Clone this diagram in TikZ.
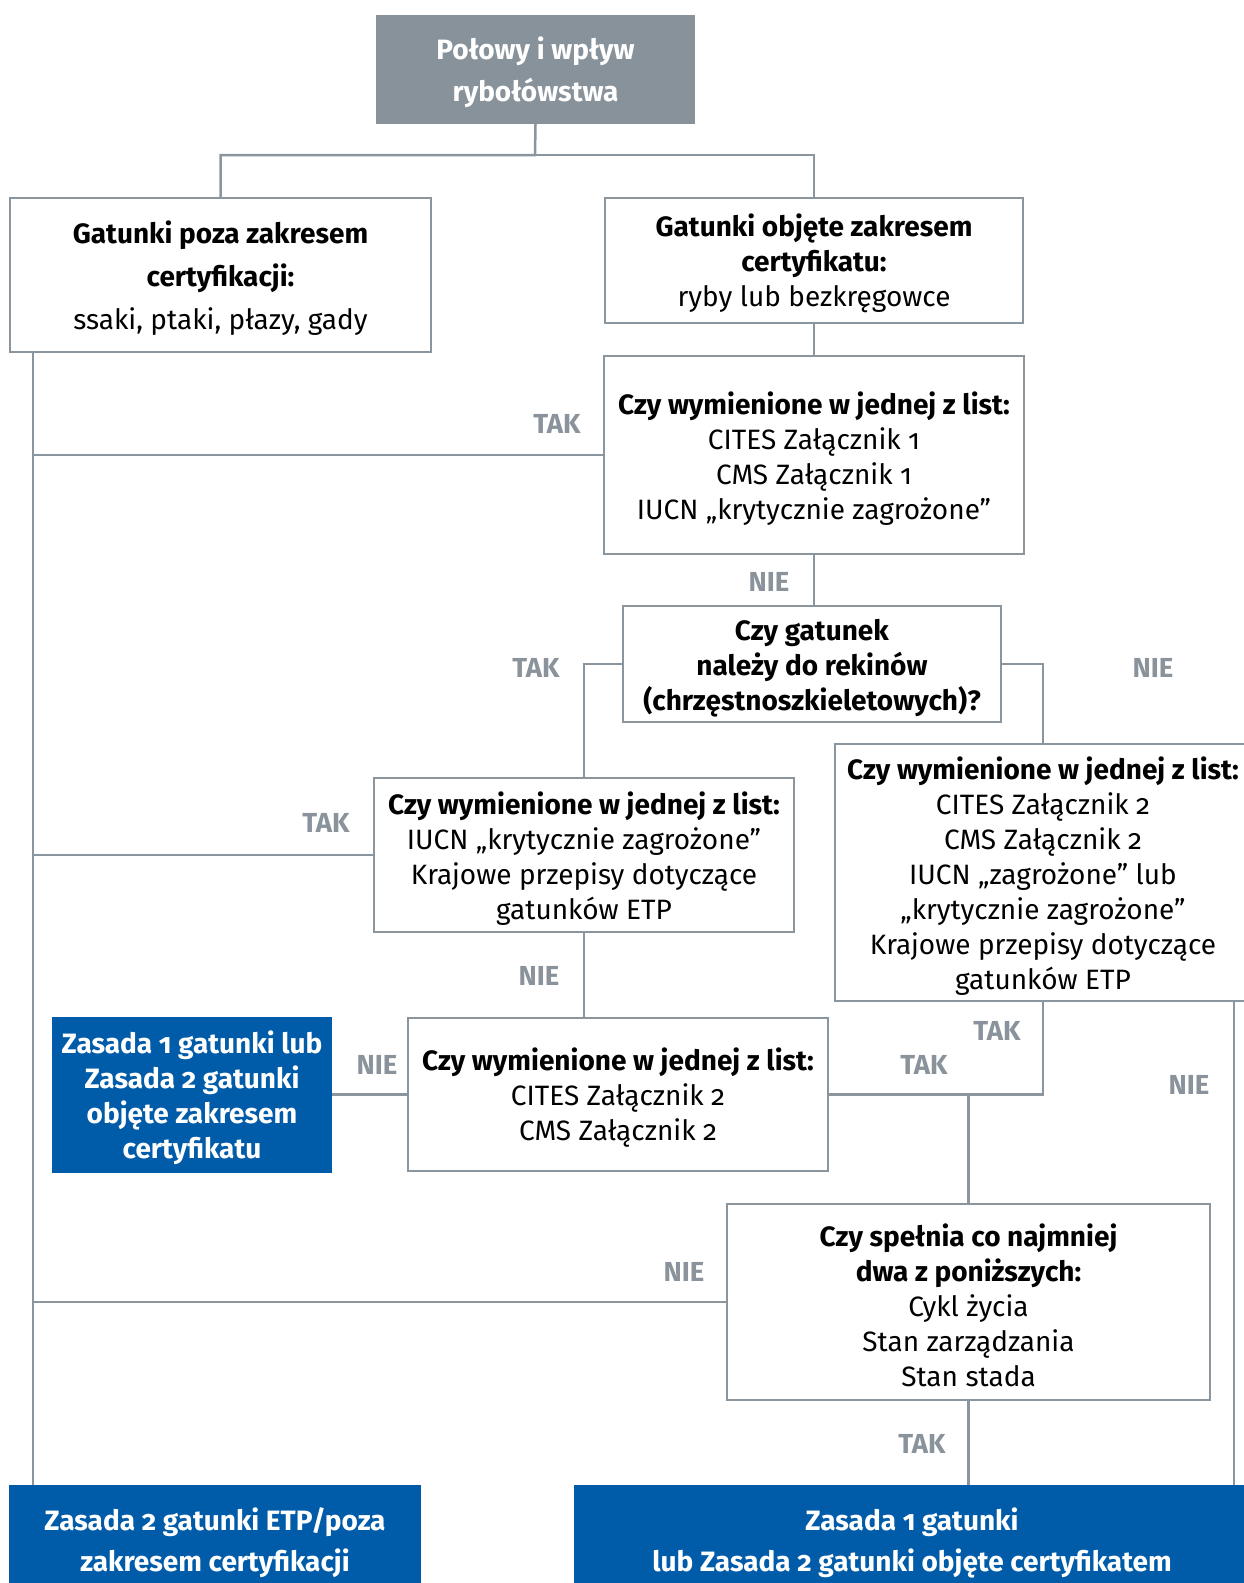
\documentclass[tikz,border=0pt]{standalone}
\usepackage{fontspec}
\setmainfont[Numbers=OldStyle]{Fira Sans}
\definecolor{lineg}{HTML}{8B959E}
\definecolor{labg}{HTML}{8A939B}
\definecolor{topg}{HTML}{87929B}
\definecolor{blu}{HTML}{005CA9}
\newcommand{\firstst}{\rule{0pt}{29pt}}
\begin{document}
\begin{tikzpicture}[x=1pt,y=-1pt,
  box/.style={draw=lineg, line width=2.5pt, fill=white, align=center, inner sep=0pt,
    font=\fontsize{28}{35}\selectfont, text=black},
  bluebox/.style={fill=blu, align=center, inner sep=0pt, text=white,
    font=\bfseries\fontsize{28}{35}\selectfont},
  topbox/.style={fill=topg, align=center, inner sep=0pt, text=white,
    font=\bfseries\fontsize{28}{42}\selectfont},
  conn/.style={draw=lineg, line width=2.5pt},
  lbl/.style={text=labg, inner sep=0pt, font=\bfseries\fontsize{27.5}{30}\selectfont}]
\useasboundingbox (0,0) rectangle (1244,1583);
\clip (0,0) rectangle (1244,1583);
\coordinate (tx) at (33,0);
\coordinate (rx) at (1234,0);
\coordinate (j0) at (535,155);

\node[topbox, minimum width=319pt, minimum height=109pt] (top) at (535.5,69.5)
  {\firstst Połowy i wpływ\\rybołówstwa};
\node[box, minimum width=421pt, minimum height=154pt, font=\fontsize{28}{43}\selectfont] (L) at (220.5,275)
  {\firstst\textbf{Gatunki poza zakresem}\\\textbf{certyfikacji:}\\ssaki, ptaki, płazy, gady};
\node[box, minimum width=418pt, minimum height=125pt] (R) at (814,260.5)
  {\firstst\textbf{Gatunki objęte zakresem}\\\textbf{certyfikatu:}\\ryby lub bezkręgowce};
\node[box, minimum width=420pt, minimum height=198pt] (Q1) at (814,455)
  {\firstst\textbf{Czy wymienione w jednej z list:}\\CITES Załącznik 1\\CMS Załącznik 1\\IUCN „krytycznie zagrożone”};
\node[box, minimum width=378pt, minimum height=116pt] (Q2) at (812,664)
  {\firstst\textbf{Czy gatunek}\\\textbf{należy do rekinów}\\\textbf{(chrzęstnoszkieletowych)?}};
\node[box, minimum width=420pt, minimum height=154pt] (Q3) at (584,855)
  {\firstst\textbf{Czy wymienione w jednej z list:}\\IUCN „krytycznie zagrożone”\\Krajowe przepisy dotyczące\\gatunków ETP};
\node[box, minimum width=416pt, minimum height=257pt] (Q4) at (1043,872.5)
  {\firstst\textbf{Czy wymienione w jednej z list:}\\CITES Załącznik 2\\CMS Załącznik 2\\IUCN „zagrożone” lub\\„krytycznie zagrożone”\\Krajowe przepisy dotyczące\\gatunków ETP};
\node[box, minimum width=420pt, minimum height=153pt] (Q5) at (618,1094.5)
  {\firstst\textbf{Czy wymienione w jednej z list:}\\CITES Załącznik 2\\CMS Załącznik 2};
\node[bluebox, minimum width=280pt, minimum height=156pt] (B1) at (192,1095)
  {\firstst Zasada 1 gatunki lub\\Zasada 2 gatunki\\objęte zakresem\\certyfikatu};
\node[box, minimum width=483pt, minimum height=196pt] (Q6) at (968.5,1302)
  {\firstst\textbf{Czy spełnia co najmniej}\\\textbf{dwa z poniższych:}\\Cykl życia\\Stan zarządzania\\Stan stada};
\node[bluebox, minimum width=412pt, minimum height=110pt, font=\bfseries\fontsize{28}{41}\selectfont] (BL) at (215,1540)
  {\firstst Zasada 2 gatunki ETP/poza\\zakresem certyfikacji};
\node[bluebox, minimum width=676pt, minimum height=110pt, font=\bfseries\fontsize{28}{41}\selectfont] (BR) at (912,1540)
  {\firstst Zasada 1 gatunki\\lub Zasada 2 gatunki objęte certyfikatem};

% connectors
\draw[conn] (top.south) -- (j0) -| (L.north);
\draw[conn] (j0) -| (R.north);
\draw[conn] (R.south) -- (R.south |- Q1.north);
\draw[conn] (L.south -| tx) -- (BL.north -| tx);
\draw[conn] (Q1.west) -- (Q1.west -| tx);
\draw[conn] (Q1.south) -- (Q1.south |- Q2.north);
\draw[conn] (Q2.west) -| (Q3.north);
\draw[conn] (Q2.east) -| (Q4.north);
\draw[conn] (Q3.west) -- (Q3.west -| tx);
\draw[conn] (Q3.south) -- (Q3.south |- Q5.north);
\draw[conn] (Q5.west) -- (Q5.west -| B1.east);
\draw[conn] (Q5.east) -| (Q4.south);
\draw[conn] (Q6.north |- Q5.east) -- (Q6.north);
\draw[conn] (Q4.south -| rx) -- (BR.north -| rx);
\draw[conn] (Q6.west) -- (Q6.west -| tx);
\draw[conn] (Q6.south) -- (Q6.south |- BR.north);

% labels
\node[lbl] (t1) at (557,424) {TAK};
\node[lbl] (n1) at (769,582) {NIE};
\node[lbl] (t2) at (536,668) {TAK};
\node[lbl] (n2) at (1153,668) {NIE};
\node[lbl] (t3) at (326,823) {TAK};
\node[lbl] (n3) at (539,976) {NIE};
\node[lbl] (n4) at (377,1065) {NIE};
\node[lbl] (t4) at (997,1031) {TAK};
\node[lbl] (t5) at (924,1065) {TAK};
\node[lbl] (n5) at (1189,1085) {NIE};
\node[lbl] (n6) at (684,1272) {NIE};
\node[lbl] (t6) at (922,1444) {TAK};
\end{tikzpicture}
\end{document}
